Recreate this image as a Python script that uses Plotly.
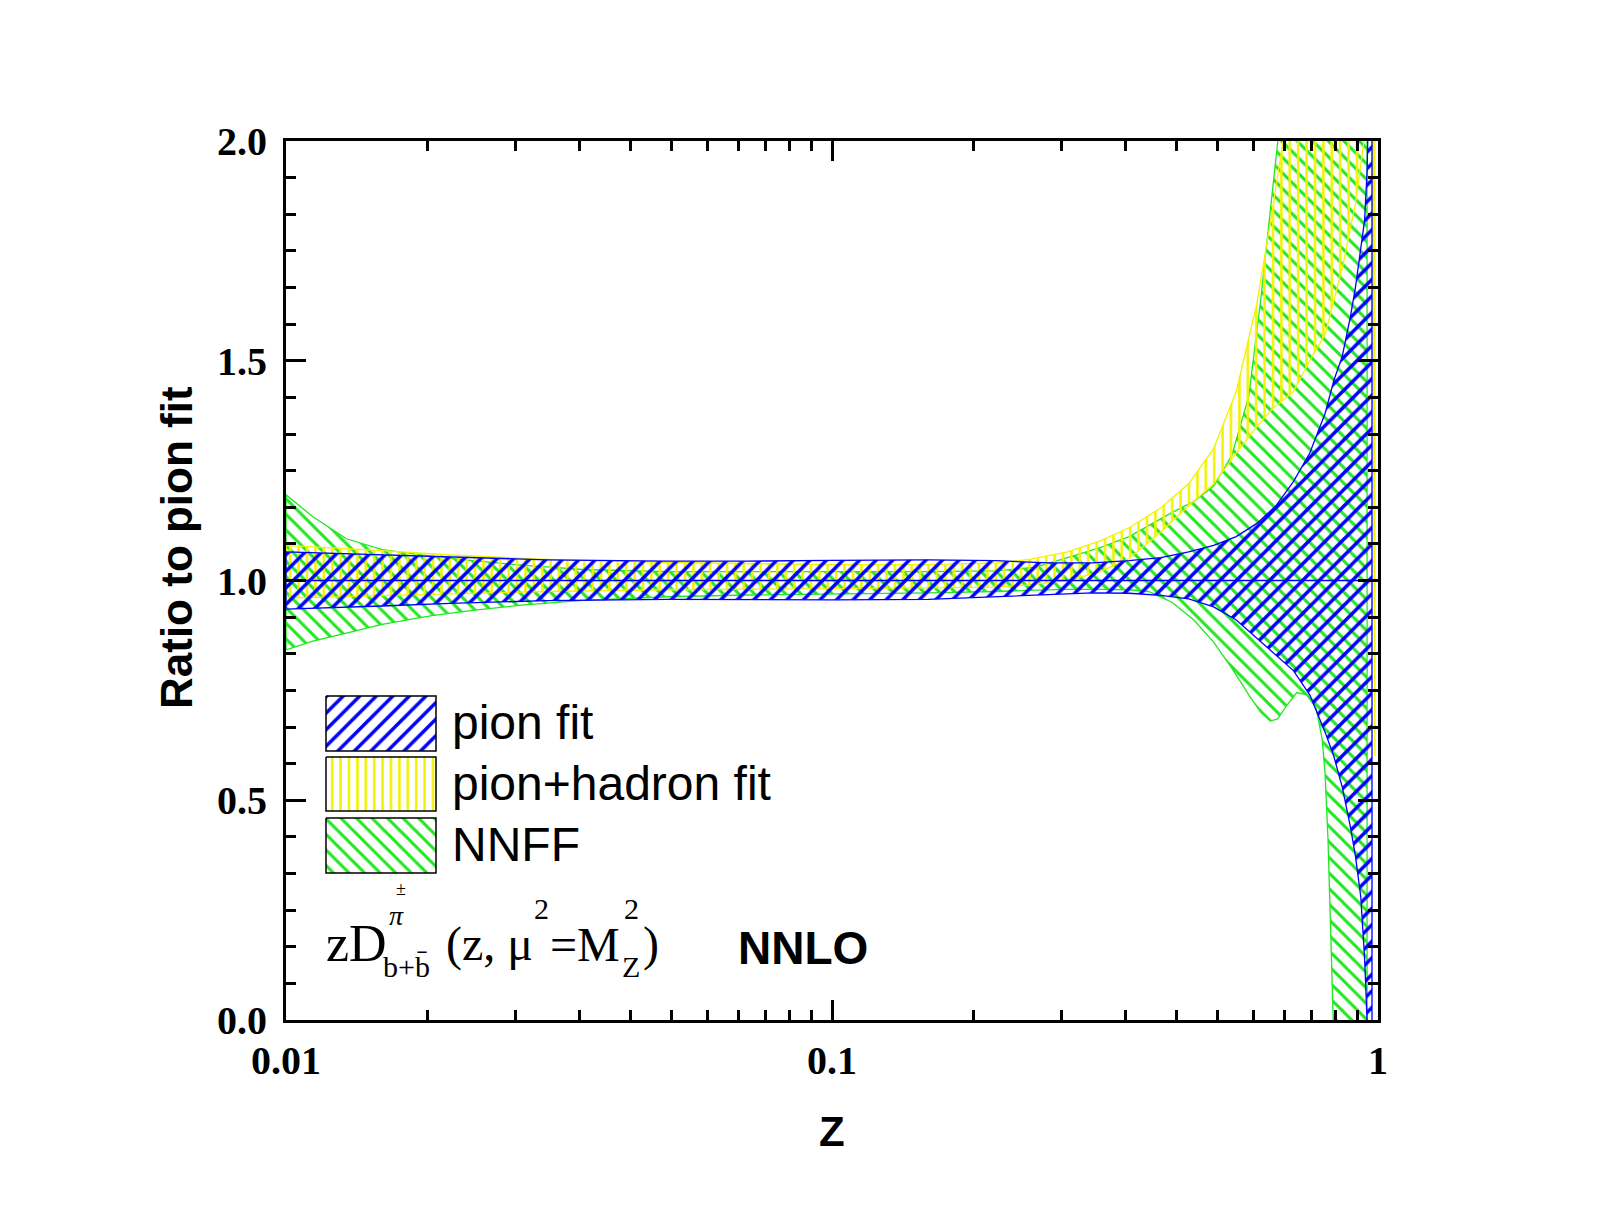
import plotly.graph_objects as go

# ---------------- data ----------------
PION_Z = [0.01, 0.012, 0.015, 0.02, 0.03, 0.05, 0.07, 0.1, 0.15, 0.2, 0.25, 0.3, 0.35, 0.4,
          0.45, 0.5, 0.55, 0.6, 0.65, 0.7, 0.75, 0.8, 0.83, 0.86, 0.89, 0.91, 0.93, 0.945,
          0.955, 0.965, 0.975]
PION_HI = [1.065, 1.062, 1.058, 1.053, 1.047, 1.044, 1.044, 1.046, 1.047, 1.045, 1.040, 1.040,
           1.045, 1.052, 1.065, 1.08, 1.10, 1.13, 1.17, 1.225, 1.29, 1.38, 1.455, 1.51, 1.60,
           1.67, 1.76, 1.82, 1.93, 2.2, 2.6]
PION_LO = [0.935, 0.938, 0.942, 0.948, 0.954, 0.957, 0.957, 0.956, 0.957, 0.962, 0.968, 0.972,
           0.971, 0.966, 0.958, 0.94, 0.91, 0.87, 0.83, 0.795, 0.74, 0.655, 0.60, 0.53, 0.44,
           0.37, 0.28, 0.14, 0.0, -0.3, -0.6]

HADRON_Z = [0.01, 0.012, 0.015, 0.02, 0.03, 0.05, 0.07, 0.1, 0.15, 0.2, 0.23, 0.27, 0.31, 0.35,
            0.4, 0.45, 0.5, 0.55, 0.6, 0.64, 0.67, 0.7, 0.75, 0.8, 0.86, 0.91, 0.94, 0.96,
            0.975, 0.987]
HADRON_HI = [1.08, 1.075, 1.068, 1.058, 1.048, 1.041, 1.038, 1.036, 1.036, 1.04, 1.048, 1.065,
             1.09, 1.12, 1.165, 1.22, 1.30, 1.43, 1.63, 1.84, 2.0, 2.2, 2.5, 2.8, 3.0, 3.0,
             3.0, 3.0, 3.0, 3.0]
HADRON_LO = [0.96, 0.962, 0.965, 0.97, 0.975, 0.979, 0.981, 0.982, 0.983, 0.985, 0.99, 1.0,
             1.02, 1.05, 1.11, 1.17, 1.22, 1.29, 1.35, 1.39, 1.41, 1.43, 1.50, 1.56, 1.71,
             1.86, 1.99, 2.2, 2.3, 0.6]

NNFF_Z = [0.01, 0.0112, 0.0129, 0.015, 0.0185, 0.022, 0.027, 0.035, 0.05, 0.07, 0.1, 0.15,
          0.2, 0.235, 0.27, 0.31, 0.35, 0.38, 0.42, 0.46, 0.5, 0.54, 0.58, 0.61, 0.635, 0.655,
          0.68, 0.71, 0.74, 0.77, 0.79, 0.80, 0.81, 0.82, 0.828, 0.84, 0.955]
NNFF_HI = [1.195, 1.145, 1.095, 1.07, 1.055, 1.045, 1.035, 1.025, 1.02, 1.02, 1.02, 1.02,
           1.022, 1.03, 1.052, 1.075, 1.10, 1.125, 1.155, 1.18, 1.215, 1.285, 1.42, 1.64,
           1.85, 2.0, 2.2, 2.4, 2.6, 2.8, 3.0, 3.0, 3.0, 3.0, 3.0, 3.0, 3.0]
NNFF_LO = [0.842, 0.862, 0.88, 0.90, 0.92, 0.932, 0.944, 0.955, 0.963, 0.967, 0.970, 0.972,
           0.975, 0.978, 0.98, 0.98, 0.979, 0.975, 0.95, 0.91, 0.86, 0.80, 0.74, 0.70, 0.68,
           0.685, 0.715, 0.745, 0.74, 0.71, 0.64, 0.56, 0.41, 0.2, 0.0, -0.5, -0.5]

CENTER_Z = [0.01, 0.975]
CENTER_Y = [1.0, 1.0]

X_TICKS = [0.01, 0.1, 1]
X_TICKTEXT = ["0.01", "0.1", "1"]
Y_TICKS = [0.0, 0.5, 1.0, 1.5, 2.0]
Y_TICKTEXT = ["0.0", "0.5", "1.0", "1.5", "2.0"]

SERIES_NAMES = ["pion fit", "pion+hadron fit", "NNFF"]

# ---------------- style ----------------
BLUE = "#0000ff"
YELLOW = "#f2f200"
GREEN = "#22e622"

W, H = 1600, 1225
L, R, T, B = 286, 1378, 141, 1020


def px_x(px):
    return (px - L) / (R - L)


def px_y(py):
    return (B - py) / (B - T)


# minor ticks: each decade divided linearly in 11 parts (as in the reference)
MINOR_X = []
for dec in (0.01, 0.1):
    for k in range(1, 11):
        MINOR_X.append(dec + k * 9 * dec / 11)

fig = go.Figure()


def band(z, lo, hi, color, shape, size, sol, xa="x", ya="y"):
    xs = list(z) + list(reversed(z)) + [z[0]]
    ys = list(hi) + list(reversed(lo)) + [hi[0]]
    fig.add_trace(go.Scatter(
        x=xs, y=ys, mode="lines", fill="toself", fillcolor="rgba(0,0,0,0)",
        fillpattern=dict(shape=shape, fgcolor=color, bgcolor="rgba(0,0,0,0)",
                         size=size, solidity=sol, fillmode="replace"),
        line=dict(color=color, width=1.3), showlegend=False, hoverinfo="skip",
        xaxis=xa, yaxis=ya))


STYLES = {
    "pion fit": (BLUE, "/", 11.7, 0.3),
    "pion+hadron fit": (YELLOW, "|", 8.4, 0.3),
    "NNFF": (GREEN, "\\", 11, 0.27),
}

band(NNFF_Z, NNFF_LO, NNFF_HI, *STYLES["NNFF"])
band(HADRON_Z, HADRON_LO, HADRON_HI, *STYLES["pion+hadron fit"])
band(PION_Z, PION_LO, PION_HI, *STYLES["pion fit"])
fig.add_trace(go.Scatter(x=CENTER_Z, y=CENTER_Y, mode="lines",
                         line=dict(color=BLUE, width=1.3), showlegend=False,
                         hoverinfo="skip"))

# ---------------- legend swatches (pixel overlay axes) ----------------
LEG_X0, LEG_X1 = 326, 436
LEG_ROWS = [(696, 751), (757, 811), (818, 873)]
for name, (y0, y1) in zip(SERIES_NAMES, LEG_ROWS):
    col, shp, sz, sol = STYLES[name]
    fig.add_trace(go.Scatter(
        x=[LEG_X0, LEG_X1, LEG_X1, LEG_X0, LEG_X0], y=[y0, y0, y1, y1, y0],
        mode="lines", fill="toself", fillcolor="rgba(0,0,0,0)",
        fillpattern=dict(shape=shp, fgcolor=col, bgcolor="rgba(0,0,0,0)",
                         size=sz, solidity=sol, fillmode="replace"),
        line=dict(color="black", width=1.5), showlegend=False, hoverinfo="skip",
        xaxis="x2", yaxis="y2"))

annotations = []
for name, (y0, y1) in zip(SERIES_NAMES, LEG_ROWS):
    annotations.append(dict(
        x=px_x(450), y=px_y((y0 + y1) / 2 - 1), xref="paper", yref="paper",
        text=name, showarrow=False, xanchor="left", yanchor="middle",
        font=dict(family="Liberation Sans, Arial", size=48, color="black")))

SERIF = "Liberation Serif, Times New Roman"


def txt(text, px, py, size, family=SERIF, weight="normal", style="normal"):
    annotations.append(dict(
        x=px_x(px), y=px_y(py), xref="paper", yref="paper", text=text,
        showarrow=False, xanchor="left", yanchor="middle",
        font=dict(family=family, size=size, color="black", weight=weight, style=style)))


# formula  zD^{pi+-}_{b+bbar} (z, mu^2 = M_Z^2)
txt("zD", 324, 943, 52)
txt("π", 387, 915, 28, style="italic")
txt("±", 394, 889, 18)
txt("b+b\u0304", 381, 966, 30)
txt("(z, μ", 444, 944, 48)
txt("2", 532, 908, 30)
txt("=M", 548, 944, 48)
txt("2", 622, 908, 30)
txt("Z", 620, 966, 30)
txt(")", 641, 944, 48)
txt("NNLO", 736, 948, 46, family="Liberation Sans, Arial", weight="bold")

# axis titles
annotations.append(dict(x=px_x(176), y=px_y(548), xref="paper", yref="paper",
                        text="Ratio to pion fit", textangle=-90, showarrow=False,
                        xanchor="center", yanchor="middle",
                        font=dict(family="Liberation Sans, Arial", size=44,
                                  weight="bold", color="black")))
annotations.append(dict(x=px_x(832), y=px_y(1131), xref="paper", yref="paper",
                        text="Z", showarrow=False, xanchor="center", yanchor="middle",
                        font=dict(family="Liberation Sans, Arial", size=42,
                                  weight="bold", color="black")))

tickfont = dict(family=SERIF, size=40, weight="bold", color="black")

fig.update_layout(
    width=W, height=H,
    margin=dict(l=L, r=W - R, t=T, b=H - B, pad=0),
    paper_bgcolor="white", plot_bgcolor="white",
    showlegend=False,
    annotations=annotations,
    xaxis=dict(type="log", range=[-2, 0], showgrid=False, zeroline=False,
               showline=True, linewidth=3, linecolor="black", mirror="ticks",
               ticks="inside", ticklen=20, tickwidth=3, tickcolor="black",
               tickmode="array", tickvals=X_TICKS, ticktext=X_TICKTEXT,
               tickfont=tickfont, ticklabelstandoff=3,
               minor=dict(tickmode="array", tickvals=MINOR_X, ticks="inside",
                          ticklen=10, tickwidth=2.5, tickcolor="black", showgrid=False)),
    yaxis=dict(range=[0, 2], showgrid=False, zeroline=False,
               showline=True, linewidth=3, linecolor="black", mirror="ticks",
               ticks="inside", ticklen=20, tickwidth=3, tickcolor="black",
               tickmode="array", tickvals=Y_TICKS, ticktext=Y_TICKTEXT,
               tickfont=tickfont, ticklabelstandoff=8,
               minor=dict(tick0=0, dtick=0.5 / 6, ticks="inside", ticklen=10,
                          tickwidth=2.5, tickcolor="black", showgrid=False)),
    xaxis2=dict(overlaying="x", anchor="y2", range=[L, R], visible=False,
                showgrid=False, zeroline=False),
    yaxis2=dict(overlaying="y", anchor="x2", range=[B, T], visible=False,
                showgrid=False, zeroline=False),
)

fig.write_html("out.html")
